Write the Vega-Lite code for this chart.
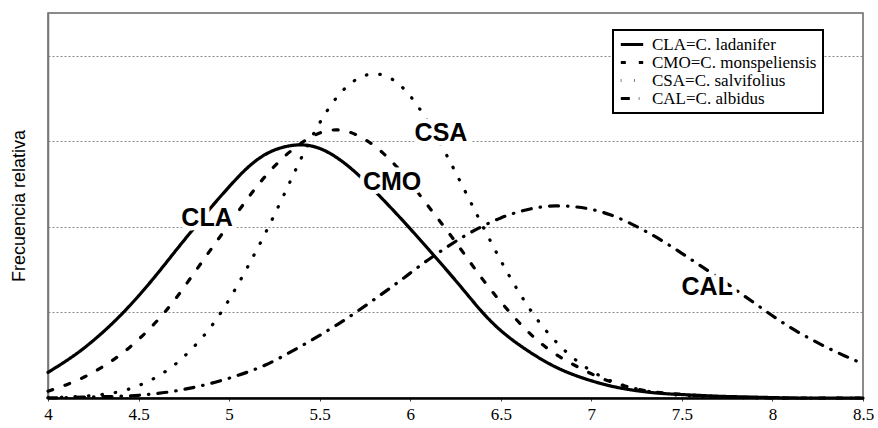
{
  "$schema": "https://vega.github.io/schema/vega-lite/v6.json",
  "width": 815,
  "height": 385,
  "autosize": {"type": "none"},
  "padding": {"left": 48, "top": 13, "right": 15, "bottom": 30},
  "background": "white",
  "config": {
    "view": {"stroke": "#666", "strokeWidth": 1.5},
    "font": "Liberation Sans"
  },
  "datasets": {
    "curves": [
      {"x":4.0,"s":"CLA","y":0.30},{"x":4.1,"s":"CLA","y":0.43},{"x":4.2,"s":"CLA","y":0.58},{"x":4.3,"s":"CLA","y":0.76},{"x":4.4,"s":"CLA","y":0.96},{"x":4.5,"s":"CLA","y":1.19},{"x":4.6,"s":"CLA","y":1.44},{"x":4.7,"s":"CLA","y":1.71},{"x":4.8,"s":"CLA","y":1.97},{"x":4.9,"s":"CLA","y":2.23},{"x":5.0,"s":"CLA","y":2.47},{"x":5.1,"s":"CLA","y":2.70},{"x":5.2,"s":"CLA","y":2.86},{"x":5.3,"s":"CLA","y":2.94},{"x":5.4,"s":"CLA","y":2.97},{"x":5.5,"s":"CLA","y":2.93},{"x":5.6,"s":"CLA","y":2.81},{"x":5.7,"s":"CLA","y":2.64},{"x":5.8,"s":"CLA","y":2.43},{"x":5.9,"s":"CLA","y":2.21},{"x":6.0,"s":"CLA","y":1.98},{"x":6.1,"s":"CLA","y":1.74},{"x":6.2,"s":"CLA","y":1.50},{"x":6.3,"s":"CLA","y":1.25},{"x":6.4,"s":"CLA","y":0.99},{"x":6.5,"s":"CLA","y":0.78},{"x":6.6,"s":"CLA","y":0.62},{"x":6.7,"s":"CLA","y":0.48},{"x":6.8,"s":"CLA","y":0.36},{"x":6.9,"s":"CLA","y":0.27},{"x":7.0,"s":"CLA","y":0.20},{"x":7.1,"s":"CLA","y":0.14},{"x":7.2,"s":"CLA","y":0.10},{"x":7.3,"s":"CLA","y":0.07},{"x":7.4,"s":"CLA","y":0.05},{"x":7.5,"s":"CLA","y":0.04},{"x":7.6,"s":"CLA","y":0.03},{"x":7.7,"s":"CLA","y":0.02},{"x":7.8,"s":"CLA","y":0.015},{"x":7.9,"s":"CLA","y":0.01},{"x":8.0,"s":"CLA","y":0.005},{"x":8.1,"s":"CLA","y":0},{"x":8.2,"s":"CLA","y":0},{"x":8.3,"s":"CLA","y":0},{"x":8.4,"s":"CLA","y":0},{"x":8.5,"s":"CLA","y":0},
      {"x":4.0,"s":"CMO","y":0.08},{"x":4.1,"s":"CMO","y":0.15},{"x":4.2,"s":"CMO","y":0.24},{"x":4.3,"s":"CMO","y":0.36},{"x":4.4,"s":"CMO","y":0.50},{"x":4.5,"s":"CMO","y":0.68},{"x":4.6,"s":"CMO","y":0.89},{"x":4.7,"s":"CMO","y":1.14},{"x":4.8,"s":"CMO","y":1.44},{"x":4.9,"s":"CMO","y":1.74},{"x":5.0,"s":"CMO","y":2.03},{"x":5.1,"s":"CMO","y":2.33},{"x":5.2,"s":"CMO","y":2.60},{"x":5.3,"s":"CMO","y":2.82},{"x":5.4,"s":"CMO","y":2.99},{"x":5.5,"s":"CMO","y":3.11},{"x":5.6,"s":"CMO","y":3.15},{"x":5.7,"s":"CMO","y":3.09},{"x":5.8,"s":"CMO","y":2.96},{"x":5.9,"s":"CMO","y":2.77},{"x":6.0,"s":"CMO","y":2.52},{"x":6.1,"s":"CMO","y":2.24},{"x":6.2,"s":"CMO","y":1.97},{"x":6.3,"s":"CMO","y":1.68},{"x":6.4,"s":"CMO","y":1.38},{"x":6.5,"s":"CMO","y":1.12},{"x":6.6,"s":"CMO","y":0.88},{"x":6.7,"s":"CMO","y":0.67},{"x":6.8,"s":"CMO","y":0.51},{"x":6.9,"s":"CMO","y":0.39},{"x":7.0,"s":"CMO","y":0.28},{"x":7.1,"s":"CMO","y":0.19},{"x":7.2,"s":"CMO","y":0.13},{"x":7.3,"s":"CMO","y":0.08},{"x":7.4,"s":"CMO","y":0.06},{"x":7.5,"s":"CMO","y":0.04},{"x":7.6,"s":"CMO","y":0.025},{"x":7.7,"s":"CMO","y":0.015},{"x":7.8,"s":"CMO","y":0.01},{"x":7.9,"s":"CMO","y":0.005},{"x":8.0,"s":"CMO","y":0},{"x":8.1,"s":"CMO","y":0},{"x":8.2,"s":"CMO","y":0},{"x":8.3,"s":"CMO","y":0},{"x":8.4,"s":"CMO","y":0},{"x":8.5,"s":"CMO","y":0},
      {"x":4.0,"s":"CSA","y":0.005},{"x":4.1,"s":"CSA","y":0.01},{"x":4.2,"s":"CSA","y":0.02},{"x":4.3,"s":"CSA","y":0.04},{"x":4.4,"s":"CSA","y":0.07},{"x":4.5,"s":"CSA","y":0.14},{"x":4.6,"s":"CSA","y":0.24},{"x":4.7,"s":"CSA","y":0.38},{"x":4.8,"s":"CSA","y":0.58},{"x":4.9,"s":"CSA","y":0.82},{"x":5.0,"s":"CSA","y":1.14},{"x":5.1,"s":"CSA","y":1.52},{"x":5.2,"s":"CSA","y":1.92},{"x":5.3,"s":"CSA","y":2.36},{"x":5.4,"s":"CSA","y":2.82},{"x":5.5,"s":"CSA","y":3.23},{"x":5.6,"s":"CSA","y":3.55},{"x":5.7,"s":"CSA","y":3.74},{"x":5.8,"s":"CSA","y":3.81},{"x":5.9,"s":"CSA","y":3.75},{"x":6.0,"s":"CSA","y":3.55},{"x":6.1,"s":"CSA","y":3.23},{"x":6.2,"s":"CSA","y":2.85},{"x":6.3,"s":"CSA","y":2.43},{"x":6.4,"s":"CSA","y":2.01},{"x":6.5,"s":"CSA","y":1.60},{"x":6.6,"s":"CSA","y":1.23},{"x":6.7,"s":"CSA","y":0.91},{"x":6.8,"s":"CSA","y":0.66},{"x":6.9,"s":"CSA","y":0.46},{"x":7.0,"s":"CSA","y":0.31},{"x":7.1,"s":"CSA","y":0.20},{"x":7.2,"s":"CSA","y":0.13},{"x":7.3,"s":"CSA","y":0.08},{"x":7.4,"s":"CSA","y":0.05},{"x":7.5,"s":"CSA","y":0.03},{"x":7.6,"s":"CSA","y":0.02},{"x":7.7,"s":"CSA","y":0.01},{"x":7.8,"s":"CSA","y":0.005},{"x":7.9,"s":"CSA","y":0},{"x":8.0,"s":"CSA","y":0},{"x":8.1,"s":"CSA","y":0},{"x":8.2,"s":"CSA","y":0},{"x":8.3,"s":"CSA","y":0},{"x":8.4,"s":"CSA","y":0},{"x":8.5,"s":"CSA","y":0},
      {"x":4.0,"s":"CAL","y":0.0},{"x":4.1,"s":"CAL","y":0.005},{"x":4.2,"s":"CAL","y":0.01},{"x":4.3,"s":"CAL","y":0.015},{"x":4.4,"s":"CAL","y":0.02},{"x":4.5,"s":"CAL","y":0.03},{"x":4.6,"s":"CAL","y":0.05},{"x":4.7,"s":"CAL","y":0.08},{"x":4.8,"s":"CAL","y":0.12},{"x":4.9,"s":"CAL","y":0.17},{"x":5.0,"s":"CAL","y":0.23},{"x":5.1,"s":"CAL","y":0.30},{"x":5.2,"s":"CAL","y":0.38},{"x":5.3,"s":"CAL","y":0.49},{"x":5.4,"s":"CAL","y":0.61},{"x":5.5,"s":"CAL","y":0.73},{"x":5.6,"s":"CAL","y":0.86},{"x":5.7,"s":"CAL","y":1.00},{"x":5.8,"s":"CAL","y":1.15},{"x":5.9,"s":"CAL","y":1.30},{"x":6.0,"s":"CAL","y":1.46},{"x":6.1,"s":"CAL","y":1.62},{"x":6.2,"s":"CAL","y":1.76},{"x":6.3,"s":"CAL","y":1.90},{"x":6.4,"s":"CAL","y":2.01},{"x":6.5,"s":"CAL","y":2.11},{"x":6.6,"s":"CAL","y":2.18},{"x":6.7,"s":"CAL","y":2.23},{"x":6.8,"s":"CAL","y":2.25},{"x":6.9,"s":"CAL","y":2.24},{"x":7.0,"s":"CAL","y":2.21},{"x":7.1,"s":"CAL","y":2.15},{"x":7.2,"s":"CAL","y":2.06},{"x":7.3,"s":"CAL","y":1.95},{"x":7.4,"s":"CAL","y":1.83},{"x":7.5,"s":"CAL","y":1.69},{"x":7.6,"s":"CAL","y":1.55},{"x":7.7,"s":"CAL","y":1.41},{"x":7.8,"s":"CAL","y":1.26},{"x":7.9,"s":"CAL","y":1.11},{"x":8.0,"s":"CAL","y":0.96},{"x":8.1,"s":"CAL","y":0.82},{"x":8.2,"s":"CAL","y":0.70},{"x":8.3,"s":"CAL","y":0.59},{"x":8.4,"s":"CAL","y":0.49},{"x":8.5,"s":"CAL","y":0.40}
    ],
    "labels": [
      {"x":4.878,"y":2.10,"label":"CLA"},
      {"x":5.90,"y":2.53,"label":"CMO"},
      {"x":6.17,"y":3.10,"label":"CSA"},
      {"x":7.64,"y":1.30,"label":"CAL"}
    ]
  },
  "layer": [
    {
      "data": {"name": "curves"},
      "mark": {"type": "line", "color": "black", "strokeWidth": 3.2, "strokeCap": "round", "interpolate": "basis"},
      "encoding": {
        "x": {
          "field": "x", "type": "quantitative",
          "scale": {"domain": [4, 8.5], "nice": false, "zero": false},
          "axis": {
            "title": null, "values": [4,4.5,5,5.5,6,6.5,7,7.5,8,8.5], "format": "~g",
            "grid": false, "domainColor": "black", "domainWidth": 2.5,
            "ticks": true, "tickSize": 3, "tickColor": "#444", "labelPadding": 5,
            "labelFont": "Liberation Sans Narrow", "labelFontSize": 17, "labelColor": "black",
            "labelFlush": false
          }
        },
        "y": {
          "field": "y", "type": "quantitative",
          "scale": {"domain": [0, 4.5], "nice": false},
          "axis": {
            "title": "Frecuencia relativa", "titleFont": "Liberation Sans", "titleFontSize": 18,
            "titleFontWeight": "normal", "titleColor": "black", "titlePadding": 20,
            "labels": false, "ticks": false, "values": [1,2,3,4],
            "grid": true, "gridDash": [2,2], "gridColor": "#888", "gridWidth": 1,
            "domainColor": "#777", "domainWidth": 1.5
          }
        },
        "strokeDash": {
          "field": "s", "type": "nominal",
          "scale": {"domain": ["CLA","CMO","CSA","CAL"], "range": [[1,0],[5,13],[0.5,13],[9,9,0.5,9]]},
          "legend": {
            "title": null, "orient": "none", "legendX": 565, "legendY": 17,
            "fillColor": "white", "strokeColor": "black", "padding": 6,
            "symbolType": "stroke", "symbolStrokeWidth": 3.2, "symbolStrokeColor": "black", "symbolSize": 500,
            "labelFont": "Liberation Serif", "labelFontSize": 17, "labelColor": "black", "labelLimit": 300,
            "rowPadding": 0, "clipHeight": 17, "labelOffset": 7,
            "labelExpr": "datum.label == 'CLA' ? 'CLA=C. ladanifer' : datum.label == 'CMO' ? 'CMO=C. monspeliensis' : datum.label == 'CSA' ? 'CSA=C. salvifolius' : 'CAL=C. albidus'",
            "encode": {"legend": {"update": {"strokeWidth": {"value": 2}}}}
          }
        }
      }
    },
    {
      "data": {"name": "labels"},
      "mark": {"type": "text", "font": "Liberation Sans", "fontSize": 25, "fontWeight": "bold", "color": "white", "stroke": "white", "strokeWidth": 9, "strokeJoin": "round", "align": "center", "baseline": "middle"},
      "encoding": {
        "x": {"field": "x", "type": "quantitative"},
        "y": {"field": "y", "type": "quantitative"},
        "text": {"field": "label", "type": "nominal"}
      }
    },
    {
      "data": {"name": "labels"},
      "mark": {"type": "text", "font": "Liberation Sans", "fontSize": 25, "fontWeight": "bold", "color": "black", "align": "center", "baseline": "middle"},
      "encoding": {
        "x": {"field": "x", "type": "quantitative"},
        "y": {"field": "y", "type": "quantitative"},
        "text": {"field": "label", "type": "nominal"}
      }
    }
  ]
}
